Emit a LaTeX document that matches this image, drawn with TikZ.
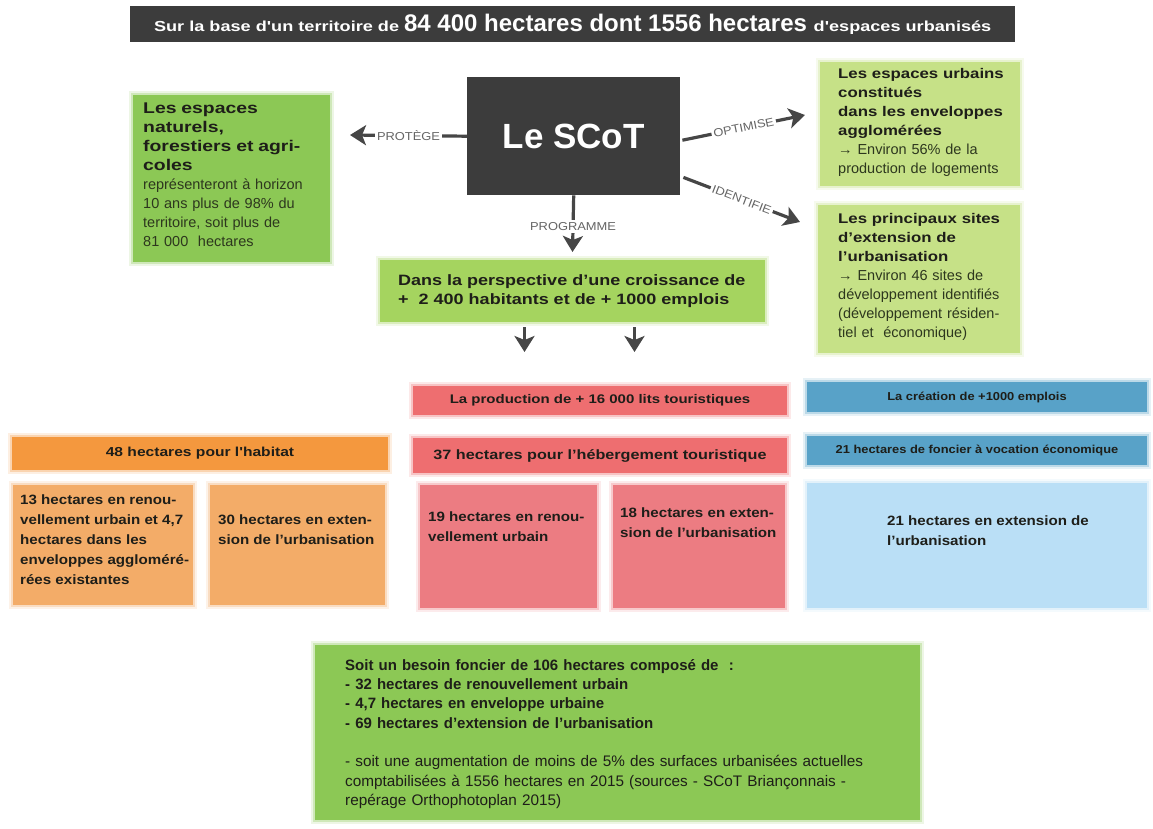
\documentclass[tikz,border=0pt]{standalone}
\usepackage{fontspec}
\setmainfont{Liberation Sans}
\newfontfamily\hvA{Liberation Sans}[FakeStretch=1.2]
\newfontfamily\hvB{Liberation Sans}[FakeStretch=1.12]
\newfontfamily\hvC{Liberation Sans}[FakeStretch=1.25]
\usetikzlibrary{arrows.meta,calc}
\definecolor{dk}{RGB}{60,60,60}
\definecolor{ag}{RGB}{70,70,70}
\definecolor{lg}{RGB}{100,100,100}
\definecolor{tx}{RGB}{30,30,25}
\definecolor{tg}{RGB}{45,55,30}
\definecolor{gA}{RGB}{140,200,85}
\definecolor{gB}{RGB}{198,225,135}
\definecolor{gC}{RGB}{165,212,95}
\definecolor{oA}{RGB}{244,152,62}
\definecolor{oB}{RGB}{243,172,104}
\definecolor{rA}{RGB}{238,110,112}
\definecolor{rB}{RGB}{236,124,130}
\definecolor{bA}{RGB}{88,162,200}
\definecolor{bB}{RGB}{186,223,246}
\tikzset{
  box/.style={anchor=north west, inner sep=0, outer sep=0, fill=#1,
    preaction={draw=#1, line width=8pt, draw opacity=0.15},
    preaction={draw=#1, line width=4pt, draw opacity=0.3}},
  txt/.style={anchor=north west, inner sep=0, align=left, text=tx},
  arr/.style={draw=ag, line width=3.2pt, -{Stealth[length=16pt,width=20pt,inset=4pt]}},
  lab/.style={fill=white, inner sep=2pt, text=lg, font=\hvB\fontsize{11.5}{12}\selectfont},
}
\begin{document}
\begin{tikzpicture}[x=1pt,y=-1pt]
\useasboundingbox[fill=white] (0,0) rectangle (1153,828);

% title
\node[anchor=north west, inner sep=0, fill=dk, minimum width=885, minimum height=36, text=white, font=\bfseries] (title) at (130,6)
  {\hvC\fontsize{14.5}{16}\selectfont Sur la base d'un territoire de \normalfont\bfseries\fontsize{24}{25}\selectfont 84 400 hectares dont 1556 hectares \hvC\fontsize{14.5}{16}\selectfont d'espaces urbanisés};

% SCoT
\node[anchor=north west, inner sep=0, fill=dk, minimum width=213, minimum height=118, text=white, font=\bfseries\fontsize{35}{38}\selectfont] (scot) at (467,77) {Le SCoT};

% left green
\node[box=gA, minimum width=197, minimum height=167] (nat) at (133,95) {};
\node[txt, text width=185pt, text=tg, font=\fontsize{14.5}{19}\selectfont] (natT) at (143,103)
  {{\hvC\bfseries\fontsize{15.5}{19}\selectfont\color{tx}Les espaces\\naturels,\\forestiers et agri-\\coles}\\représenteront à horizon\\10 ans plus de 98\% du\\territoire, soit plus de\\81 000 ~hectares};

% right boxes
\node[box=gB, minimum width=200, minimum height=124] (urb) at (820,62) {};
\node[txt, text width=180pt, text=tg, font=\fontsize{14.5}{19}\selectfont] (urbT) at (838,68)
  {{\hvA\bfseries\fontsize{14}{19}\selectfont\color{tx}Les espaces urbains\\constitués\\dans les enveloppes\\agglomérées}\\→ Environ 56\% de la\\production de logements};
\node[box=gB, minimum width=202, minimum height=148] (sites) at (818,205) {};
\node[txt, text width=180pt, text=tg, font=\fontsize{14.5}{19}\selectfont] (sitesT) at (838,213)
  {{\hvA\bfseries\fontsize{14}{19}\selectfont\color{tx}Les principaux sites\\d’extension de\\l’urbanisation}\\ → Environ 46 sites de\\développement identifiés\\(développement résiden-\\tiel et ~économique)};

% perspective
\node[box=gC, minimum width=385, minimum height=62] (persp) at (380,260) {};
\node[txt, anchor=west, text width=360pt, font=\hvA\bfseries\fontsize{15}{19}\selectfont] (perspT) at ($(persp.west)+(18,0)$)
  {Dans la perspective d’une croissance de\\+ ~2 400 habitants et de + 1000 emplois};

% arrows from SCoT
\draw[arr] (scot.west) -- node[lab]{PROTÈGE} ($(nat.north east)+(20,40)$);
\draw[arr] ($(scot.east)+(2,4)$) -- node[lab, sloped]{OPTIMISE} ($(urb.west)+(-15,-9)$);
\draw[arr] ($(scot.south east)+(3,-18)$) -- node[lab, sloped]{IDENTIFIE} ($(sites.north west)+(-18,17)$);
\draw[arr] (scot.south) -- node[lab, pos=0.55]{PROGRAMME} ($(persp.north)+(0,-8)$);
\coordinate (d1) at ($(persp.south)+(-48,30)$);
\coordinate (d2) at ($(persp.south)+(62,30)$);
\draw[arr] ($(persp.south)+(-48,5)$) -- (d1);
\draw[arr] ($(persp.south)+(62,5)$) -- (d2);

% red column
\node[box=rA, minimum width=374, minimum height=29] (lits) at (413,386) {};
\node[text=tx, font=\hvA\bfseries\fontsize{12.5}{14}\selectfont] at (lits.center) {La production de + 16 000 lits touristiques};
\node[box=rA, minimum width=374, minimum height=35] (heb) at (413,438) {};
\node[text=tx, font=\hvA\bfseries\fontsize{13.5}{15}\selectfont] at (heb.center) {37 hectares pour l’hébergement touristique};
\node[box=rB, minimum width=177, minimum height=123] (r1) at (420,485) {};
\node[txt, font=\hvB\bfseries\fontsize{13.5}{19.5}\selectfont] (r1T) at (428,512) {19 hectares en renou-\\vellement urbain};
\node[box=rB, minimum width=172, minimum height=123] (r2) at (613,485) {};
\node[txt, font=\hvB\bfseries\fontsize{13.5}{19.5}\selectfont] (r2T) at (620,508) {18 hectares en exten-\\sion de l’urbanisation};

% blue column
\node[box=bA, minimum width=340, minimum height=30] (empl) at (807,382) {};
\node[text=tx, font=\hvB\bfseries\fontsize{11.5}{13}\selectfont] at (empl.center) {La création de +1000 emplois};
\node[box=bA, minimum width=340, minimum height=29] (eco) at (807,436) {};
\node[text=tx, font=\hvB\bfseries\fontsize{11.5}{13}\selectfont] at (eco.center) {21 hectares de foncier à vocation économique};
\node[box=bB, minimum width=340, minimum height=125] (b1) at (807,483) {};
\node[txt, font=\hvB\bfseries\fontsize{13.5}{20}\selectfont] (b1T) at (887,516) {21 hectares en extension de\\l’urbanisation};

% orange column
\node[box=oA, minimum width=376, minimum height=33] (hab) at (12,437) {};
\node[text=tx, font=\hvA\bfseries\fontsize{13}{15}\selectfont] at (hab.center) {48 hectares pour l'habitat};
\node[box=oB, minimum width=180, minimum height=120] (o1) at (13,485) {};
\node[txt, font=\hvB\bfseries\fontsize{13.5}{19.8}\selectfont] (o1T) at (20,495) {13 hectares en renou-\\vellement urbain et 4,7\\hectares dans les\\enveloppes aggloméré-\\rées existantes};
\node[box=oB, minimum width=175, minimum height=120] (o2) at (210,485) {};
\node[txt, font=\hvB\bfseries\fontsize{13.5}{19.8}\selectfont] (o2T) at (218,515) {30 hectares en exten-\\sion de l’urbanisation};

% bottom
\node[box=gA, minimum width=605, minimum height=175] (tot) at (315,645) {};
\node[txt, text width=570pt, font=\fontsize{15.3}{19.3}\selectfont] (totT) at (345,659)
  {{\bfseries\fontsize{15}{19.3}\selectfont Soit un besoin foncier de 106 hectares composé de ~:\\- 32 hectares de renouvellement urbain\\- 4,7 hectares en enveloppe urbaine\\- 69 hectares d’extension de l’urbanisation}\\[19.3pt]
   - soit une augmentation de moins de 5\% des surfaces urbanisées actuelles\\comptabilisées à 1556 hectares en 2015 (sources - SCoT Briançonnais -\\repérage Orthophotoplan 2015)};
\end{tikzpicture}
\end{document}
